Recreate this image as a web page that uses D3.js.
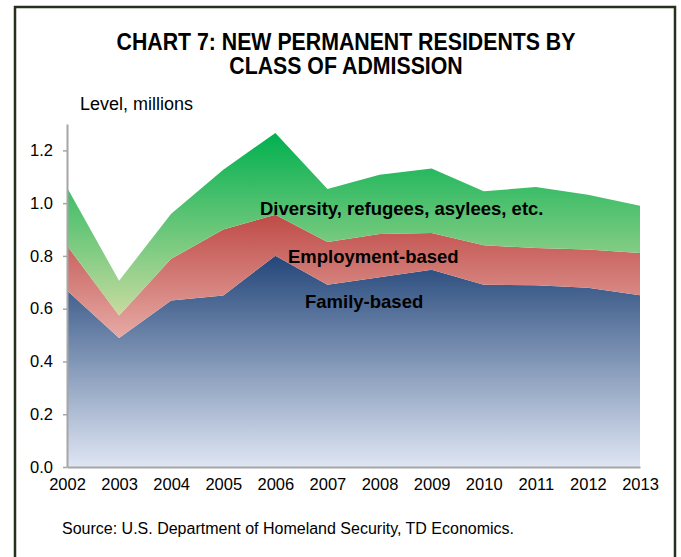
<!DOCTYPE html>
<html>
<head>
<meta charset="utf-8">
<script src="https://cdn.jsdelivr.net/npm/d3@7"></script>
<style>
  body { margin: 0; background: white; }
  svg { display: block; font-family: "Liberation Sans", Arial, sans-serif; }
</style>
</head>
<body>
<div id="chart"></div>
<script>
const years = [2002, 2003, 2004, 2005, 2006, 2007, 2008, 2009, 2010, 2011, 2012, 2013];
const family = [0.669, 0.489, 0.631, 0.650, 0.801, 0.691, 0.719, 0.748, 0.691, 0.689, 0.679, 0.651];
const employment = [0.170, 0.085, 0.158, 0.250, 0.155, 0.162, 0.164, 0.139, 0.149, 0.141, 0.145, 0.160];
const diversity = [0.220, 0.132, 0.171, 0.227, 0.310, 0.201, 0.225, 0.244, 0.205, 0.231, 0.208, 0.179];
const yTicks = [0, 0.2, 0.4, 0.6, 0.8, 1.0, 1.2];

const width = 681, height = 557;
const padding = { left: 67, right: 41, top: 124, bottom: 90 };

const svg = d3.select("#chart").append("svg")
    .attr("width", width)
    .attr("height", height);

// frame
svg.append("path")
    .attr("d", `M15,${height} L15,7 L675,7 L675,${height}`)
    .attr("fill", "none")
    .attr("stroke", "#26301a")
    .attr("stroke-width", 2.5);

// title (source text is slightly taller than wide, so stretch it a bit)
const titleLines = [
    { text: "CHART 7: NEW PERMANENT RESIDENTS BY", y: 50 },
    { text: "CLASS OF ADMISSION", y: 74 }
];
svg.selectAll(".title")
    .data(titleLines)
    .enter()
    .append("text")
    .attr("class", "title")
    .attr("transform", d => `translate(346,${d.y}) scale(1,1.08)`)
    .attr("text-anchor", "middle")
    .attr("font-size", 21.3)
    .attr("font-weight", "bold")
    .text(d => d.text);

svg.append("text")
    .attr("transform", "translate(80,110) scale(1,1.05)")
    .attr("font-size", 18)
    .text("Level, millions");

const xScale = d3.scalePoint()
    .domain(years)
    .range([padding.left, width - padding.right]);

const yScale = d3.scaleLinear()
    .domain([0, 1.3])
    .range([height - padding.bottom, padding.top]);

// stacked data
const rows = years.map((y, i) => ({ year: y, family: family[i], employment: employment[i], diversity: diversity[i] }));
const keys = ["family", "employment", "diversity"];
const stack = d3.stack().keys(keys)(rows);

const grads = {
    family: ["#234679", "#dfe6f4"],
    employment: ["#bf4b47", "#e6aaa5"],
    diversity: ["#00b04f", "#c8dba0"]
};

const defs = svg.append("defs");
keys.forEach(k => {
    const g = defs.append("linearGradient")
        .attr("id", "grad-" + k)
        .attr("x1", 0).attr("y1", 0).attr("x2", 0).attr("y2", 1);
    g.append("stop").attr("offset", "0%").attr("stop-color", grads[k][0]);
    g.append("stop").attr("offset", "100%").attr("stop-color", grads[k][1]);
});

const area = d3.area()
    .x(d => xScale(d.data.year))
    .y0(d => yScale(d[0]))
    .y1(d => yScale(d[1]));

svg.selectAll(".layer")
    .data(stack)
    .enter()
    .append("path")
    .attr("class", "layer")
    .attr("d", area)
    .attr("fill", d => "url(#grad-" + d.key + ")");

// axes
const yAxis = d3.axisLeft(yScale)
    .tickValues(yTicks)
    .tickFormat(d3.format(".1f"))
    .tickSize(4)
    .tickSizeOuter(0);

const gy = svg.append("g")
    .attr("transform", "translate(" + padding.left + ",0)")
    .call(yAxis);
gy.select(".domain").attr("stroke", "#a6a6a6").attr("stroke-width", 2);
gy.selectAll(".tick line").attr("stroke", "#a6a6a6").attr("stroke-width", 1.5);
gy.selectAll(".tick text")
    .attr("x", -14)
    .attr("font-size", 16.5)
    .attr("font-family", "Liberation Sans, Arial, sans-serif")
    .attr("fill", "#000");

const xAxis = d3.axisBottom(xScale)
    .tickSize(0)
    .tickSizeOuter(0);

const gx = svg.append("g")
    .attr("transform", "translate(0," + yScale(0) + ")")
    .call(xAxis);
gx.select(".domain").attr("stroke", "#a6a6a6").attr("stroke-width", 2);
gx.selectAll(".tick text")
    .attr("y", 11)
    .attr("font-size", 16.5)
    .attr("font-family", "Liberation Sans, Arial, sans-serif")
    .attr("fill", "#000");

// series labels
const labels = [
    { text: "Diversity, refugees, asylees, etc.", x: 260, y: 215 },
    { text: "Employment-based", x: 288, y: 263 },
    { text: "Family-based", x: 305, y: 308 }
];
svg.selectAll(".series-label")
    .data(labels)
    .enter()
    .append("text")
    .attr("class", "series-label")
    .attr("x", d => d.x)
    .attr("y", d => d.y)
    .attr("font-size", 18.5)
    .attr("font-weight", "bold")
    .text(d => d.text);

svg.append("text")
    .attr("x", 62).attr("y", 534)
    .attr("font-size", 16)
    .text("Source: U.S. Department of Homeland Security, TD Economics.");
</script>
</body>
</html>
